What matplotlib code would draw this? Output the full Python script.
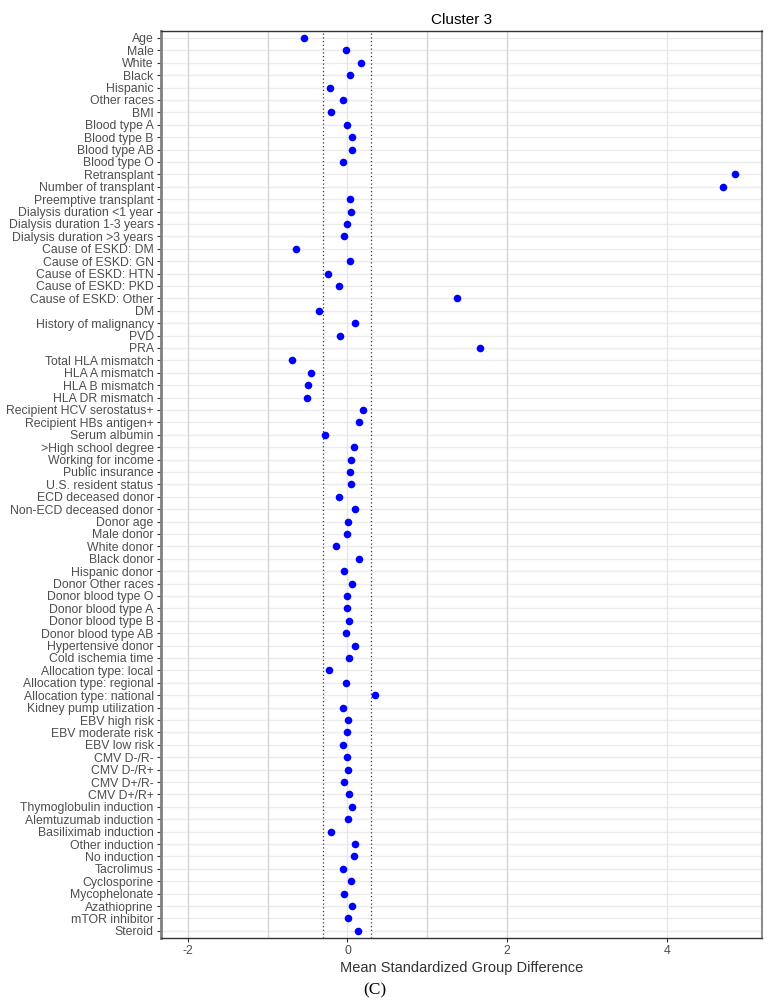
import matplotlib
matplotlib.use("Agg")
import matplotlib.pyplot as plt
import numpy as np

plt.rcParams["font.family"] = ["Liberation Sans", "DejaVu Sans"]
plt.rcParams["axes.unicode_minus"] = False

# covariates, top to bottom
labels = [
    "Age", "Male", "White", "Black", "Hispanic", "Other races", "BMI",
    "Blood type A", "Blood type B", "Blood type AB", "Blood type O",
    "Retransplant", "Number of transplant", "Preemptive transplant",
    "Dialysis duration <1 year", "Dialysis duration 1-3 years",
    "Dialysis duration >3 years", "Cause of ESKD: DM", "Cause of ESKD: GN",
    "Cause of ESKD: HTN", "Cause of ESKD: PKD", "Cause of ESKD: Other", "DM",
    "History of malignancy", "PVD", "PRA", "Total HLA mismatch",
    "HLA A mismatch", "HLA B mismatch", "HLA DR mismatch",
    "Recipient HCV serostatus+", "Recipient HBs antigen+", "Serum albumin",
    ">High school degree", "Working for income", "Public insurance",
    "U.S. resident status", "ECD deceased donor", "Non-ECD deceased donor",
    "Donor age", "Male donor", "White donor", "Black donor", "Hispanic donor",
    "Donor Other races", "Donor blood type O", "Donor blood type A",
    "Donor blood type B", "Donor blood type AB", "Hypertensive donor",
    "Cold ischemia time", "Allocation type: local", "Allocation type: regional",
    "Allocation type: national", "Kidney pump utilization", "EBV high risk",
    "EBV moderate risk", "EBV low risk", "CMV D-/R-", "CMV D-/R+", "CMV D+/R-",
    "CMV D+/R+", "Thymoglobulin induction", "Alemtuzumab induction",
    "Basiliximab induction", "Other induction", "No induction", "Tacrolimus",
    "Cyclosporine", "Mycophelonate", "Azathioprine", "mTOR inhibitor", "Steroid",
]

values = [
    -0.55, -0.02, 0.17, 0.03, -0.22, -0.06, -0.21,
    -0.01, 0.06, 0.06, -0.06,
    4.86, 4.70, 0.03,
    0.05, -0.01,
    -0.04, -0.64, 0.03,
    -0.24, -0.11, 1.375, -0.36,
    0.09, -0.09, 1.655, -0.70,
    -0.46, -0.49, -0.51,
    0.20, 0.14, -0.28,
    0.08, 0.05, 0.03,
    0.05, -0.10, 0.10,
    0.01, 0.00, -0.14, 0.14, -0.04,
    0.06, -0.01, 0.00,
    0.02, -0.02, 0.09,
    0.02, -0.23, -0.02,
    0.34, -0.06, 0.01,
    0.00, -0.05, -0.01, 0.01, -0.04,
    0.02, 0.06, 0.01,
    -0.21, 0.10, 0.08, -0.06,
    0.04, -0.04, 0.06, 0.01, 0.13,
]

xticks = [-2, 0, 2, 4]
threshold = 0.3

fig = plt.figure(figsize=(7.68, 10.08), dpi=100)
ax = fig.add_axes([0.2092, 0.0692, 0.7826, 0.9005])

n = len(labels)
y = np.arange(n)[::-1]

# grid
for yy in y:
    ax.axhline(yy, color="#ebebeb", linewidth=1.0, zorder=0)
for gx in [-2, -1, 1, 2]:
    ax.axvline(gx, color="#d4d4d4", linewidth=1.0, zorder=0)
for gx in [0, 4]:
    ax.axvline(gx, color="#e6e6e6", linewidth=1.0, zorder=0)

ax.axvline(-threshold, color="#333333", linestyle=(0, (1, 2)), linewidth=0.9, zorder=1)
ax.axvline(threshold, color="#333333", linestyle=(0, (1, 2)), linewidth=0.9, zorder=1)

ax.scatter(values, y, s=30, color="#0000ff", zorder=3, linewidths=0)

ax.set_xlim(-2.34, 5.19)
ax.set_ylim(-0.6, n - 1 + 0.6)
ax.set_yticks(y)
ax.set_yticklabels(labels)
ax.set_xticks(xticks)
ax.tick_params(axis="both", labelsize=8.8, labelcolor="#4d4d4d", color="#333333",
               length=3, width=0.8, pad=2)

for side in ["top", "bottom"]:
    ax.spines[side].set_color("#333333")
    ax.spines[side].set_linewidth(1.0)
ax.spines["left"].set_color("#7f7f7f")
ax.spines["left"].set_linewidth(2.0)
ax.spines["right"].set_color("#8c8c8c")
ax.spines["right"].set_linewidth(1.5)

ax.set_title("Cluster 3", fontsize=11, pad=5)
ax.set_xlabel("Mean Standardized Group Difference", fontsize=10.5, color="#333333", labelpad=3)

fig.text(0.488, 0.017, "(C)", fontsize=12.5, family="Liberation Serif", ha="center", va="center")

fig.savefig("out.png", dpi=100)
